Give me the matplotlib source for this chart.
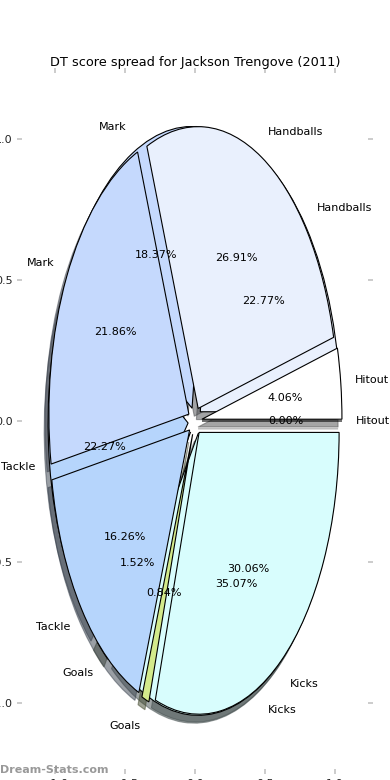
import matplotlib
matplotlib.use("Agg")
import matplotlib.pyplot as plt

# DT score share by stat, two seasons' splits overlaid (percentages)
labels = ["Hitout", "Handballs", "Mark", "Tackle", "Goals", "Kicks"]
share_a = [0.00, 22.77, 18.37, 22.27, 1.52, 35.07]
share_b = [4.06, 26.91, 21.86, 16.26, 0.84, 30.06]
colors = ["#ffffff", "#e9f0fd", "#c5d9fd", "#b6d5fc", "#d3ea8b", "#d8fdfd"]
title = "DT score spread for Jackson Trengove (2011)"
ticks = [-1.0, -0.5, 0.0, 0.5, 1.0]

fig = plt.figure(figsize=(3.9, 7.8), dpi=100)
lim = 1.235
ax = fig.add_axes([22.1 / 390, 11 / 780, 345.8 / 390, 696 / 780])

for share in (share_a, share_b):
    ax.pie(share, labels=labels, colors=colors, explode=[0.05] * len(share),
           autopct="%.2f%%", shadow=True, frame=True,
           wedgeprops={"edgecolor": "black", "linewidth": 0.8},
           textprops={"fontsize": 8})

ax.set_aspect("auto")
ax.set_xlim(-lim, lim)
ax.set_ylim(-lim, lim)
ax.set_xticks(ticks)
ax.set_yticks(ticks)
for s in ax.spines.values():
    s.set_visible(False)
ax.tick_params(axis="both", which="both", length=3.5, width=1.3, color="#c8c8c8",
               labelsize=8, labelcolor="#222222", top=True, right=True)
ax.set_title(title, fontsize=9.3, pad=5)

fig.text(0.0, 0.006, "Dream-Stats.com", fontsize=8, fontweight="bold",
         color="#999999", ha="left", va="bottom")

fig.savefig("out.png", dpi=100)
